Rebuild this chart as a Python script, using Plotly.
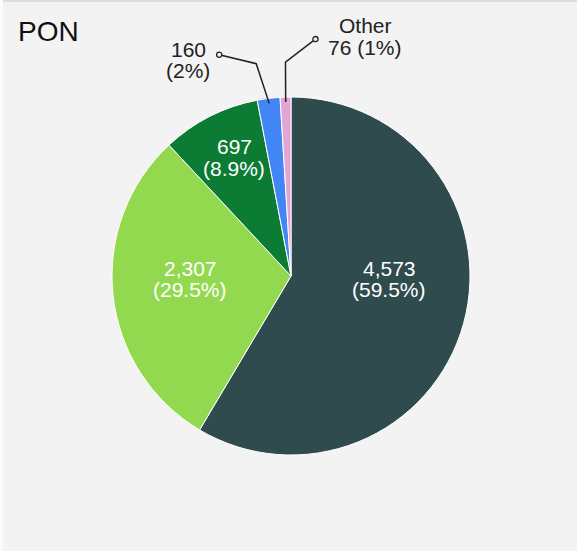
import math
import plotly.graph_objects as go

# Slice data
labels = ["4,573", "2,307", "697", "160", "Other"]
values = [4573, 2307, 697, 160, 76]
pct_text = ["59.5%", "29.5%", "8.9%", "2%", "1%"]
colors = ["#304b4e", "#93d94f", "#0c7b33", "#4285f4", "#e3a5d6"]

W, H = 577, 551
BG = "#f3f3f3"
FONT = "Liberation Sans, Arial, sans-serif"
LABEL_SIZE = 21

# Pie placement in pixels
CX, CY, R = 291, 276, 179


def px(x):
    return x / W


def py(y):
    return 1 - y / H


fig = go.Figure(
    go.Pie(
        values=values,
        labels=labels,
        marker=dict(colors=colors, line=dict(color="white", width=1)),
        sort=False,
        direction="clockwise",
        rotation=0,
        textinfo="none",
        hoverinfo="label+value+percent",
        showlegend=False,
        domain=dict(x=[px(CX - R), px(CX + R)], y=[py(CY + R), py(CY - R)]),
    )
)

annotations = []
shapes = []

# Frame decoration: light top rule and white left strip
shapes.append(dict(type="rect", xref="paper", yref="paper", x0=0, x1=1,
                   y0=py(2), y1=1, fillcolor="#dcdcdc", line=dict(width=0), layer="below"))
shapes.append(dict(type="rect", xref="paper", yref="paper", x0=0, x1=px(3),
                   y0=0, y1=1, fillcolor="#fbfbfb", line=dict(width=0), layer="below"))

# Title
annotations.append(dict(text="PON", x=px(16), y=py(32), xref="paper", yref="paper",
                        xanchor="left", yanchor="middle", showarrow=False,
                        font=dict(family=FONT, size=28, color="#111")))


def two_line(cx, y1, y2, top, bottom, color):
    # each line is its own annotation so the line spacing stays tight
    for t, yy in ((top, y1), (bottom, y2)):
        annotations.append(dict(text=t, x=px(cx), y=py(yy), xref="paper", yref="paper",
                                xanchor="center", yanchor="middle", showarrow=False,
                                font=dict(family=FONT, size=LABEL_SIZE, color=color)))


# Inside labels (value + percent)
inside_pos = {0: (389, 268, 289), 1: (190, 268, 289), 2: (234, 147, 168)}
for i, (cx, y1, y2) in inside_pos.items():
    two_line(cx, y1, y2, f"{values[i]:,}", f"({pct_text[i]})", "white")

# Outside labels with leader lines for the two thin slices
total = sum(values)
cum = 0
mids = []
for v in values:
    mids.append((cum + v / 2) / total * 2 * math.pi)
    cum += v

outside = {
    3: dict(elbow_dx=-8, offset=(-37, -9), text_c=(188, 49, 70),
            lines=(f"{values[3]:,}", f"({pct_text[3]})")),
    4: dict(elbow_dx=1, offset=(30, -23), text_c=(365, 25, 47),
            lines=("Other", f"{values[4]:,} ({pct_text[4]})")),
}
for i, o in outside.items():
    a = mids[i]
    sx, sy = CX + (R - 5) * math.sin(a), CY - (R - 5) * math.cos(a)
    ex, ey = CX + (R + 35) * math.sin(a) + o["elbow_dx"], CY - (R + 35) * math.cos(a)
    tx, ty = ex + o["offset"][0], ey + o["offset"][1]
    path = f"M {px(sx)},{py(sy)} L {px(ex)},{py(ey)} L {px(tx)},{py(ty)}"
    shapes.append(dict(type="path", xref="paper", yref="paper", path=path,
                       line=dict(color="#222", width=1.5)))
    rr = 2.6
    shapes.append(dict(type="circle", xref="paper", yref="paper",
                       x0=px(tx - rr), x1=px(tx + rr), y0=py(ty + rr), y1=py(ty - rr),
                       fillcolor=BG, line=dict(color="#222", width=1.3)))
    cx, y1, y2 = o["text_c"]
    two_line(cx, y1, y2, o["lines"][0], o["lines"][1], "#222")

fig.update_layout(
    width=W, height=H,
    margin=dict(l=0, r=0, t=0, b=0),
    paper_bgcolor=BG,
    plot_bgcolor=BG,
    annotations=annotations,
    shapes=shapes,
    font=dict(family=FONT),
)

fig.write_html("out.html")
